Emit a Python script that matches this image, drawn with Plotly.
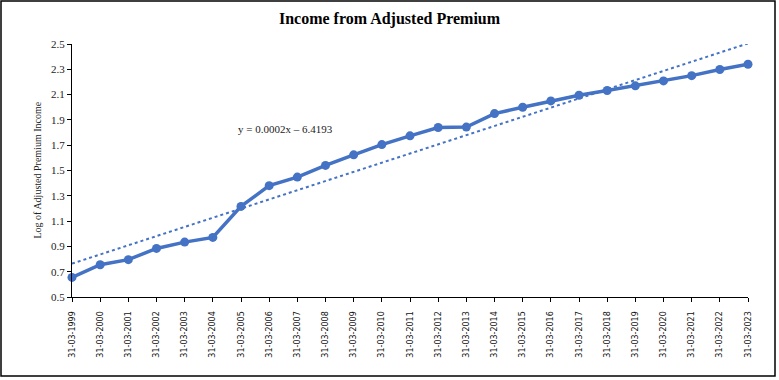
import numpy as np
import plotly.graph_objects as go

years = list(range(1999, 2024))
dates = [f"31-03-{y}" for y in years]
log_income = [0.655, 0.755, 0.795, 0.884, 0.934, 0.971, 1.216, 1.38, 1.448, 1.54,
              1.624, 1.705, 1.774, 1.84, 1.843, 1.95, 2.0, 2.05, 2.095, 2.132,
              2.169, 2.208, 2.25, 2.298, 2.34]
y_ticks = [0.5, 0.7, 0.9, 1.1, 1.3, 1.5, 1.7, 1.9, 2.1, 2.3, 2.5]
title_text = "Income from Adjusted Premium"
y_title = "Log of Adjusted Premium Income"
eq_text = "y = 0.0002x \u2013 6.4193"

idx = np.arange(len(log_income))
slope, intercept = np.polyfit(idx, log_income, 1)
trend = slope * idx + intercept

BLUE = "#4472C4"
W, H = 779, 380
L, R, T, B = 72, 31, 44, 83
pw, ph = W - L - R, H - T - B

fig = go.Figure()
fig.add_trace(go.Scatter(x=dates, y=trend, mode="lines",
                         line=dict(color=BLUE, width=2, dash="dot"),
                         hoverinfo="skip", cliponaxis=False))
fig.add_trace(go.Scatter(x=dates, y=log_income, mode="lines+markers",
                         line=dict(color=BLUE, width=3.5),
                         marker=dict(color=BLUE, size=9), cliponaxis=False))

fig.update_layout(
    width=W, height=H, showlegend=False,
    margin=dict(l=L, r=R, t=T, b=B),
    paper_bgcolor="white", plot_bgcolor="white",
    title=dict(text=title_text, x=0.5, xref="container", y=1 - 18 / H,
               yref="container", xanchor="center", yanchor="middle",
               font=dict(family="Liberation Serif", size=16, color="black", weight="bold")),
    xaxis=dict(type="category", range=[0, len(dates) - 1], showgrid=False,
               showline=True, linecolor="black", linewidth=1,
               ticks="outside", ticklen=4, tickcolor="black", tickangle=-90,
               ticklabelstandoff=6,
               tickfont=dict(family="DejaVu Sans", size=8, color="#111"),
               zeroline=False),
    yaxis=dict(range=[0.5, 2.5], tickvals=y_ticks, tickformat=".1f", showgrid=False,
               showline=True, linecolor="black", linewidth=1,
               ticks="outside", ticklen=4, tickcolor="black",
               tickfont=dict(family="Liberation Serif", size=11, color="#222"),
               zeroline=False),
    annotations=[
        dict(text=y_title, textangle=-90, xref="paper", yref="paper",
             x=(37 - L) / pw, y=0.5, showarrow=False, xanchor="center", yanchor="middle",
             font=dict(family="Liberation Serif", size=10, color="#222")),
        dict(text=eq_text, xref="paper", yref="paper",
             x=(285 - L) / pw, y=(H - B - 129) / ph, showarrow=False,
             xanchor="center", yanchor="middle",
             font=dict(family="Liberation Serif", size=11, color="#222")),
    ],
    shapes=[dict(type="rect", xref="paper", yref="paper",
                 x0=(1 - L) / pw, x1=(775 - L) / pw,
                 y0=(H - B - 376) / ph, y1=(H - B - 1) / ph,
                 line=dict(color="black", width=1.5), fillcolor="rgba(0,0,0,0)")],
)

fig.write_html("out.html", config={"displayModeBar": False},
               post_script="document.body.style.margin='0';document.body.style.overflow='hidden';")
